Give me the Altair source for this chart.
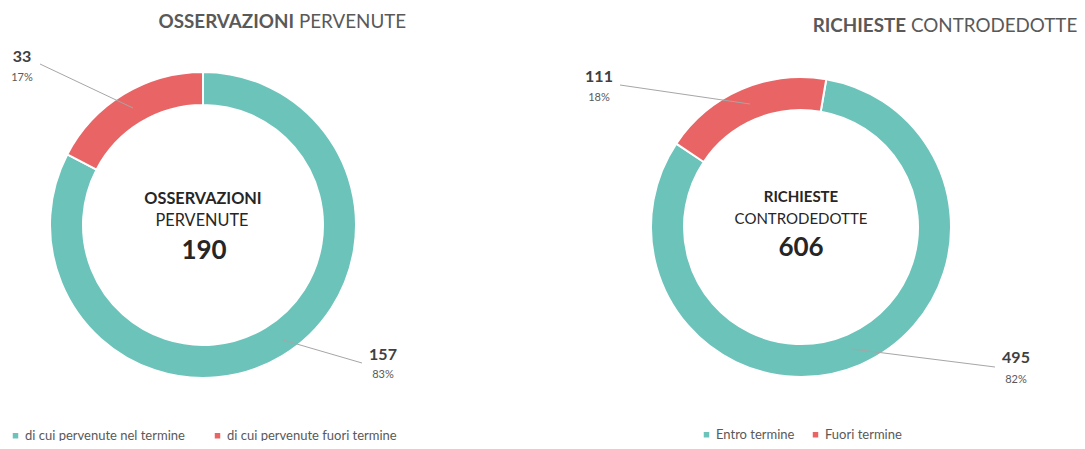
import math
import altair as alt
import pandas as pd

# ---- data ----
obs_title_bold = "OSSERVAZIONI"
obs_title_rest = "PERVENUTE"
obs_categories = ["di cui pervenute nel termine", "di cui pervenute fuori termine"]
obs_values = [157, 33]

ric_title_bold = "RICHIESTE"
ric_title_rest = "CONTRODEDOTTE"
ric_categories = ["Entro termine", "Fuori termine"]
ric_values = [495, 111]

TEAL = "#6CC3BA"
RED = "#E96464"
GRAY = "#595959"
DARK = "#262626"
LINE = "#A6A6A6"
FONT = "Lato"
OX, OY = 8, 8


def px(x):
    return x - OX


def py(y):
    return y - OY


def one(text):
    return pd.DataFrame({"t": [text]})


def text_layer(text, x, y, size, bold=False, color=GRAY, align="center"):
    return alt.Chart(one(text)).mark_text(
        font=FONT, fontSize=size, fontWeight="bold" if bold else "normal",
        color=color, align=align, baseline="middle",
    ).encode(text="t:N", x=alt.value(px(x)), y=alt.value(py(y)))


def rule_layer(x1, y1, x2, y2):
    return alt.Chart(one("")).mark_rule(color=LINE, strokeWidth=1).encode(
        x=alt.value(px(x1)), y=alt.value(py(y1)),
        x2=alt.value(px(x2)), y2=alt.value(py(y2)),
    )


def donut(cats, vals, cx, cy, r_out, r_in, start_deg, lx, ly, colpad):
    df = pd.DataFrame({"cat": cats, "val": vals, "ord": list(range(len(cats)))})
    s = math.radians(start_deg)
    return alt.Chart(df).mark_arc(
        innerRadius=r_in, outerRadius=r_out, stroke="white", strokeWidth=2
    ).encode(
        theta=alt.Theta("val:Q", stack=True,
                        scale=alt.Scale(range=[s, s + 2 * math.pi])),
        color=alt.Color(
            "cat:N",
            scale=alt.Scale(domain=cats, range=[TEAL, RED]),
            legend=alt.Legend(
                orient="none", legendX=px(lx), legendY=py(ly),
                direction="horizontal", title=None, symbolType="square",
                symbolSize=30, symbolStrokeWidth=0, labelFont=FONT,
                labelFontSize=13, labelColor=GRAY, labelOffset=3,
                labelLimit=400, columnPadding=colpad,
            ),
        ),
        order=alt.Order("ord:Q"),
        x=alt.value(px(cx)),
        y=alt.value(py(cy)),
    )


def pct(v, tot):
    return f"{round(100 * v / tot)}%"


obs_tot = sum(obs_values)
ric_tot = sum(ric_values)

layers = [
    donut(obs_categories, obs_values, 203, 225, 153, 120, 0, 9, 429, 26),
    donut(ric_categories, ric_values, 801, 227, 150, 117, 9.7, 700, 428, 14),
    # titles
    text_layer(obs_title_bold, 294, 22, 18.8, bold=True, align="right"),
    text_layer(obs_title_rest, 299, 22, 18.8, align="left"),
    text_layer(ric_title_bold, 906, 26, 18.8, bold=True, align="right"),
    text_layer(ric_title_rest, 911, 26, 18.8, align="left"),
    # center text
    text_layer(obs_title_bold, 203, 199, 16.3, bold=True, color=DARK),
    text_layer(obs_title_rest, 202, 221, 16.3, color=DARK),
    text_layer(str(obs_tot), 204, 251, 26, bold=True, color=DARK),
    text_layer(ric_title_bold, 801, 197, 15, bold=True, color=DARK),
    text_layer(ric_title_rest, 801, 219, 15, color=DARK),
    text_layer(str(ric_tot), 801, 248, 26, bold=True, color=DARK),
    # leader lines
    rule_layer(40, 64, 133, 108),
    rule_layer(283, 340, 362, 363),
    rule_layer(620, 85, 750, 104),
    rule_layer(852, 349, 995, 367),
    # slice labels
    text_layer(str(obs_values[1]), 22, 57, 16, bold=True, color="#404040"),
    text_layer(pct(obs_values[1], obs_tot), 22, 78, 11),
    text_layer(str(obs_values[0]), 383, 355, 16, bold=True, color="#404040"),
    text_layer(pct(obs_values[0], obs_tot), 383, 375, 11),
    text_layer(str(ric_values[1]), 599, 77, 16, bold=True, color="#404040"),
    text_layer(pct(ric_values[1], ric_tot), 599, 98, 11),
    text_layer(str(ric_values[0]), 1016, 358, 16, bold=True, color="#404040"),
    text_layer(pct(ric_values[0], ric_tot), 1016, 380, 11),
]

chart = alt.layer(*layers).resolve_scale(
    theta="independent", color="independent"
).properties(
    width=1069, height=433, padding=0,
    autosize=alt.AutoSizeParams(type="none"),
    background="white",
).configure_view(stroke=None)

chart.save("out.html", embed_options={"renderer": "svg", "actions": False})
